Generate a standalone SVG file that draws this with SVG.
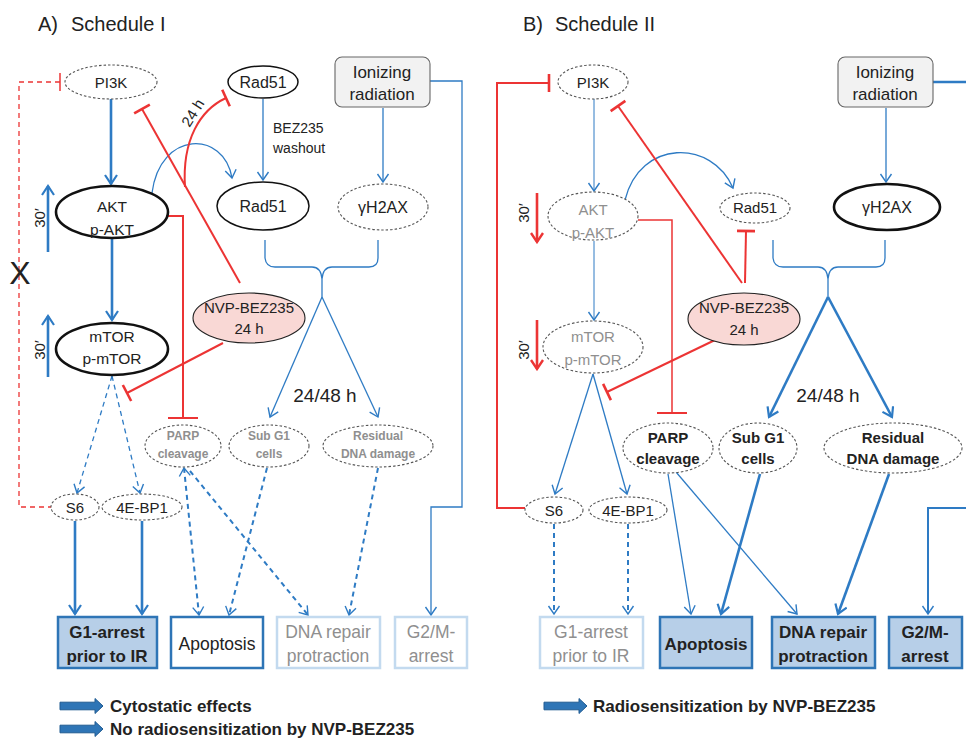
<svg xmlns="http://www.w3.org/2000/svg" width="966" height="740" viewBox="0 0 966 740">
<style>
text{font-family:"Liberation Sans",Arial,sans-serif;text-anchor:middle;fill:#222}
.b{font-weight:bold}
.g{fill:#8f8f8f}
.l{text-anchor:start}
.dn{fill:#fff;stroke:#555;stroke-width:1.1;stroke-dasharray:2.5 2}
.sn{fill:#fff;stroke:#111;stroke-width:1.5}
.tn{fill:#fff;stroke:#111;stroke-width:2.6}
.pk{fill:#f9d8d5;stroke:#222;stroke-width:1.1}
.bf{fill:#b7cfe8;stroke:#2e75b6;stroke-width:2.5}
.bw{fill:#fff;stroke:#2e75b6;stroke-width:2.5}
.bl{fill:#fff;stroke:#c3daef;stroke-width:2.5}
.e{fill:none;stroke:#2e7bc4}
.w3{stroke-width:2.6}
.w2{stroke-width:2}
.w1{stroke-width:1.3}
.d{stroke-dasharray:5 4}
.r{fill:none;stroke:#ec3434}
</style>
<defs>
<marker id="ah" viewBox="-11 -7 13 14" refX="0" refY="0" markerWidth="13" markerHeight="14" markerUnits="userSpaceOnUse" orient="auto"><path d="M-9,-6 L0,0 L-9,6" fill="none" stroke="#2e7bc4" stroke-width="2.2"/></marker>
<marker id="as" viewBox="-10 -7 12 14" refX="0" refY="0" markerWidth="12" markerHeight="14" markerUnits="userSpaceOnUse" orient="auto-start-reverse"><path d="M-8,-5.5 L0,0 L-8,5.5" fill="none" stroke="#2e7bc4" stroke-width="1.4"/></marker>
<marker id="ar" viewBox="-11 -7 13 14" refX="0" refY="0" markerWidth="13" markerHeight="14" markerUnits="userSpaceOnUse" orient="auto"><path d="M-9,-6 L0,0 L-9,6" fill="none" stroke="#ec3434" stroke-width="2.4"/></marker>
<marker id="tr" viewBox="-3 -10 6 20" refX="0" refY="0" markerWidth="6" markerHeight="20" markerUnits="userSpaceOnUse" orient="auto"><path d="M0,-9 L0,9" stroke="#ec3434" stroke-width="2.6"/></marker>
<marker id="trs" viewBox="-3 -16 6 32" refX="0" refY="0" markerWidth="6" markerHeight="32" markerUnits="userSpaceOnUse" orient="auto"><path d="M0,-15 L0,15" stroke="#ec3434" stroke-width="2"/></marker>
<marker id="trd" viewBox="-3 -10 6 20" refX="0" refY="0" markerWidth="6" markerHeight="20" markerUnits="userSpaceOnUse" orient="auto"><path d="M0,-9 L0,9" stroke="#ec3434" stroke-width="1.5"/></marker>
<path id="blk" d="M0,-3.8 L35,-3.8 L35,-7.5 L43,0 L35,7.5 L35,3.8 L0,3.8 Z" fill="#2e75b6" stroke="#1f5a91" stroke-width="1"/>
</defs>

<!-- Titles -->
<text class="l" x="38" y="31" font-size="20" fill="#333">A)</text>
<text class="l" x="71" y="31" font-size="20" fill="#333">Schedule I</text>
<text class="l" x="523" y="31" font-size="20" fill="#333">B)</text>
<text class="l" x="555" y="31" font-size="20" fill="#333">Schedule II</text>

<g id="connectors">
<!-- Panel A -->
<path class="r w1 d" d="M60,82 L19,82 L19,507 L51,507" stroke-dasharray="4 3" marker-start="url(#trd)"/>
<path class="e w3" d="M111,99 L111,184" marker-end="url(#ah)"/>
<path class="e w3" d="M112,239 L112,320" marker-end="url(#ah)"/>
<path class="e w1" d="M263,99 L263,180" marker-end="url(#as)"/>
<path class="e w1" d="M383,108 L383,182" marker-end="url(#as)"/>
<path class="e w1" d="M430,81 L462,81 L462,507 L431,507 L431,615" marker-end="url(#as)"/>
<path class="e w1" d="M152,193 C160,130 224,130 232,178" marker-end="url(#as)"/>
<path class="r w2" d="M185,187 C182,140 200,110 226,98" marker-end="url(#tr)"/>
<path class="r w2" d="M240,283 L142,109" marker-end="url(#tr)"/>
<path class="r w2" d="M168,216 L183,216 L183,418" marker-end="url(#trs)"/>
<path class="r w2" d="M223,343 L127,393" marker-end="url(#tr)"/>
<path class="e w3" d="M48,252 L48,186" marker-end="url(#ah)"/>
<path class="e w3" d="M48,377 L48,316" marker-end="url(#ah)"/>
<path class="e w1" d="M265,240 L265,258 Q266,267 275,267 L312,267 Q321,267 322,279 Q323,267 332,267 L369,267 Q378,267 378,258 L378,240 M322,279 L322,297"/>
<path class="e w1" d="M322,297 L270,417" marker-end="url(#as)"/>
<path class="e w1" d="M322,297 L378,417" marker-end="url(#as)"/>
<path class="e w1 d" d="M112,376 L77,493" stroke-dasharray="4 3" marker-end="url(#as)"/>
<path class="e w1 d" d="M112,376 L140,493" stroke-dasharray="4 3" marker-end="url(#as)"/>
<path class="e w3" d="M75,521 L75,614" marker-end="url(#ah)"/>
<path class="e w3" d="M142,521 L142,614" marker-end="url(#ah)"/>
<path class="e w2 d" d="M184,468 L199,615" marker-start="url(#as)" marker-end="url(#as)"/>
<path class="e w2 d" d="M190,471 L308,615" marker-end="url(#as)"/>
<path class="e w2 d" d="M267,468 L229,615" marker-end="url(#as)"/>
<path class="e w2 d" d="M378,468 L349,615" marker-end="url(#as)"/>

<!-- Panel B -->
<path class="r w2" d="M549,83 L497,83 L497,508 L525,508" marker-start="url(#tr)"/>
<path class="e" stroke-width="1" d="M594,99 L594,191" marker-end="url(#as)"/>
<path class="e" stroke-width="1" d="M594,241 L594,320" marker-end="url(#as)"/>
<path class="e w1" d="M886,108 L886,182" marker-end="url(#as)"/>
<path class="e w3" d="M933,82 L966,82"/>
<path class="e w2" d="M966,508 L928,508 L928,614" marker-end="url(#as)"/>
<path class="e w1" d="M625,200 C640,139 712,139 733,188" marker-end="url(#as)"/>
<path class="r w2" d="M742,283 L618,106" marker-end="url(#tr)"/>
<path class="r w2" d="M745,283 L746,231" marker-end="url(#tr)"/>
<path class="r" stroke-width="1.5" d="M638,220 L672,220 L672,413" marker-end="url(#trs)"/>
<path class="r w2" d="M715,340 L607,392" marker-end="url(#tr)"/>
<path class="r w3" d="M537,193 L537,242" marker-end="url(#ar)"/>
<path class="r w3" d="M537,320 L537,369" marker-end="url(#ar)"/>
<path class="e w1" d="M773,240 L773,258 Q774,267 783,267 L818,267 Q827,267 828,279 Q829,267 838,267 L876,267 Q885,267 885,258 L885,240 M828,279 L828,297"/>
<path class="e w3" d="M828,297 L769,417" marker-end="url(#ah)"/>
<path class="e w3" d="M828,297 L892,417" marker-end="url(#ah)"/>
<path class="e w1" d="M593,374 L555,494" marker-end="url(#as)"/>
<path class="e w1" d="M593,374 L627,494" marker-end="url(#as)"/>
<path class="e w2 d" d="M554,524 L554,614" marker-end="url(#as)"/>
<path class="e w2 d" d="M628,524 L628,614" marker-end="url(#as)"/>
<path class="e w1" d="M668,474 L691,614" marker-end="url(#as)"/>
<path class="e w1" d="M676,472 L797,614" marker-end="url(#as)"/>
<path class="e w3" d="M760,474 L721,614" marker-end="url(#ah)"/>
<path class="e w3" d="M889,474 L838,614" marker-end="url(#ah)"/>
</g>

<!-- Labels on connectors -->
<text class="l" x="273" y="133" font-size="14">BEZ235</text>
<text class="l" x="273" y="153" font-size="14">washout</text>
<text x="0" y="0" font-size="15" transform="translate(193,113) rotate(-58)" dy="5">24 h</text>
<text x="0" y="0" font-size="15" transform="translate(40,218) rotate(-90)" dy="5">30′</text>
<text x="0" y="0" font-size="15" transform="translate(40,350) rotate(-90)" dy="5">30′</text>
<text x="0" y="0" font-size="15" transform="translate(524,213) rotate(-90)" dy="5">30′</text>
<text x="0" y="0" font-size="15" transform="translate(524,350) rotate(-90)" dy="5">30′</text>
<text x="20" y="284" font-size="32" fill="#000">X</text>
<text x="325" y="402" font-size="19">24/48 h</text>
<text x="828" y="402" font-size="19">24/48 h</text>

<!-- Panel A nodes -->
<g id="a-pi3k"><ellipse class="dn" cx="111" cy="82" rx="46" ry="17"/><text x="111" y="88" font-size="15">PI3K</text></g>
<g id="a-rad51-top"><ellipse class="sn" cx="263" cy="82" rx="35" ry="16"/><text x="263" y="88" font-size="16">Rad51</text></g>
<g id="a-ir"><rect x="335" y="57" width="95" height="50" rx="7" fill="#f2f2f2" stroke="#666" stroke-width="1.1"/><text x="382" y="78" font-size="17">Ionizing</text><text x="382" y="100" font-size="17">radiation</text></g>
<g id="a-akt"><ellipse class="tn" cx="112" cy="212" rx="56" ry="26"/><text x="112" y="212" font-size="15.5">AKT</text><text x="112" y="235" font-size="15.5">p-AKT</text></g>
<g id="a-rad51"><ellipse class="sn" cx="263" cy="206" rx="46" ry="24"/><text x="263" y="212" font-size="16">Rad51</text></g>
<g id="a-h2ax"><ellipse class="dn" cx="383" cy="207" rx="45" ry="23"/><text x="383" y="213" font-size="16">γH2AX</text></g>
<g id="a-nvp"><ellipse class="pk" cx="249" cy="318" rx="56" ry="25"/><text x="249" y="313" font-size="15">NVP-BEZ235</text><text x="249" y="334" font-size="15">24 h</text></g>
<g id="a-mtor"><ellipse class="tn" cx="112" cy="349" rx="56" ry="26"/><text x="112" y="342" font-size="15.5">mTOR</text><text x="112" y="364" font-size="15.5">p-mTOR</text></g>
<g id="a-parp"><ellipse class="dn" cx="183" cy="446" rx="38" ry="21"/><text class="b g" x="183" y="440" font-size="12">PARP</text><text class="b g" x="183" y="458" font-size="12">cleavage</text></g>
<g id="a-subg1"><ellipse class="dn" cx="269" cy="446" rx="40" ry="21"/><text class="b g" x="269" y="440" font-size="12">Sub G1</text><text class="b g" x="269" y="458" font-size="12">cells</text></g>
<g id="a-resid"><ellipse class="dn" cx="378" cy="446" rx="55" ry="21"/><text class="b g" x="378" y="440" font-size="12">Residual</text><text class="b g" x="378" y="458" font-size="12">DNA damage</text></g>
<g id="a-s6"><ellipse class="dn" cx="75" cy="507" rx="24" ry="13"/><text x="75" y="513" font-size="15">S6</text></g>
<g id="a-4ebp1"><ellipse class="dn" cx="142" cy="507" rx="40" ry="13"/><text x="142" y="513" font-size="15">4E-BP1</text></g>
<g id="a-g1"><rect class="bf" x="58" y="617" width="99" height="51"/><text class="b" x="107" y="638" font-size="17">G1-arrest</text><text class="b" x="107" y="662" font-size="17">prior to IR</text></g>
<g id="a-apo"><rect class="bw" x="171" y="617" width="92" height="51"/><text x="217" y="650" font-size="17.5">Apoptosis</text></g>
<g id="a-dna"><rect class="bl" x="277" y="617" width="103" height="51"/><text class="g" x="328" y="638" font-size="17.5">DNA repair</text><text class="g" x="328" y="662" font-size="17.5">protraction</text></g>
<g id="a-g2m"><rect class="bl" x="395" y="617" width="72" height="51"/><text class="g" x="431" y="638" font-size="17.5">G2/M-</text><text class="g" x="431" y="662" font-size="17.5">arrest</text></g>

<!-- Panel B nodes -->
<g id="b-pi3k"><ellipse class="dn" cx="593" cy="82" rx="35" ry="17"/><text x="593" y="88" font-size="15">PI3K</text></g>
<g id="b-ir"><rect x="838" y="57" width="95" height="50" rx="7" fill="#f2f2f2" stroke="#666" stroke-width="1.1"/><text x="885" y="78" font-size="17">Ionizing</text><text x="885" y="100" font-size="17">radiation</text></g>
<g id="b-akt"><ellipse class="dn" cx="593" cy="216" rx="45" ry="24"/><text class="g" x="593" y="215" font-size="15">AKT</text><text class="g" x="593" y="238" font-size="15">p-AKT</text></g>
<g id="b-rad51"><ellipse class="dn" cx="755" cy="208" rx="35" ry="15"/><text x="755" y="213" font-size="15">Rad51</text></g>
<g id="b-h2ax"><ellipse class="tn" cx="887" cy="207" rx="53" ry="23"/><text x="887" y="213" font-size="16">γH2AX</text></g>
<g id="b-nvp"><ellipse class="pk" cx="744" cy="319" rx="56" ry="26"/><text x="744" y="313" font-size="15">NVP-BEZ235</text><text x="744" y="335" font-size="15">24 h</text></g>
<g id="b-mtor"><ellipse class="dn" cx="593" cy="347" rx="50" ry="26"/><text class="g" x="593" y="342" font-size="15">mTOR</text><text class="g" x="593" y="365" font-size="15">p-mTOR</text></g>
<g id="b-parp"><ellipse class="dn" cx="668" cy="448" rx="45" ry="25"/><text class="b" x="668" y="443" font-size="15">PARP</text><text class="b" x="668" y="464" font-size="15">cleavage</text></g>
<g id="b-subg1"><ellipse class="dn" cx="758" cy="448" rx="39" ry="25"/><text class="b" x="758" y="443" font-size="15">Sub G1</text><text class="b" x="758" y="464" font-size="15">cells</text></g>
<g id="b-resid"><ellipse class="dn" cx="893" cy="448" rx="69" ry="25"/><text class="b" x="893" y="443" font-size="15">Residual</text><text class="b" x="893" y="464" font-size="15">DNA damage</text></g>
<g id="b-s6"><ellipse class="dn" cx="554" cy="510" rx="29" ry="13"/><text x="554" y="516" font-size="15">S6</text></g>
<g id="b-4ebp1"><ellipse class="dn" cx="628" cy="510" rx="39" ry="13"/><text x="628" y="516" font-size="15">4E-BP1</text></g>
<g id="b-g1"><rect class="bl" x="540" y="617" width="103" height="51"/><text class="g" x="591" y="638" font-size="17.5">G1-arrest</text><text class="g" x="591" y="662" font-size="17.5">prior to IR</text></g>
<g id="b-apo"><rect class="bf" x="660" y="617" width="92" height="51"/><text class="b" x="706" y="650" font-size="17">Apoptosis</text></g>
<g id="b-dna"><rect class="bf" x="772" y="617" width="103" height="51"/><text class="b" x="823" y="638" font-size="17">DNA repair</text><text class="b" x="823" y="662" font-size="17">protraction</text></g>
<g id="b-g2m"><rect class="bf" x="889" y="617" width="73" height="51"/><text class="b" x="925" y="638" font-size="17">G2/M-</text><text class="b" x="925" y="662" font-size="17">arrest</text></g>

<!-- Legend -->
<g id="legend">
<use href="#blk" x="60" y="706"/>
<text class="b l" x="110" y="712" font-size="17">Cytostatic effects</text>
<use href="#blk" x="60" y="729"/>
<text class="b l" x="110" y="735" font-size="17">No radiosensitization by NVP-BEZ235</text>
<use href="#blk" x="544" y="706"/>
<text class="b l" x="593" y="712" font-size="17">Radiosensitization by NVP-BEZ235</text>
</g>
</svg>
